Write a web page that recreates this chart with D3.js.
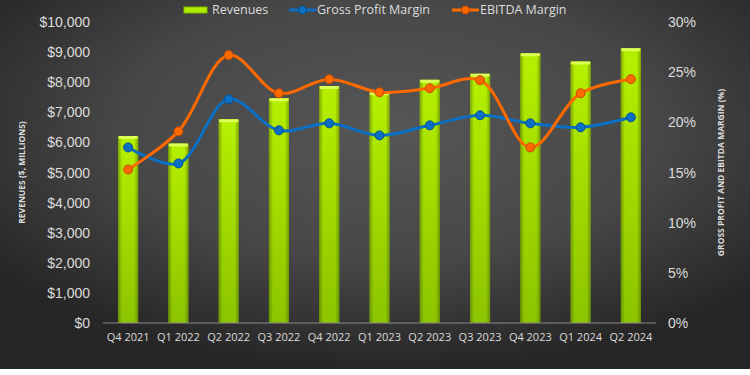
<!DOCTYPE html>
<html lang="en">
<head>
<meta charset="UTF-8">
<title>Revenues vs Gross Profit and EBITDA Margin</title>
<script src="https://d3js.org/d3.v7.min.js"></script>
<style>
  body { margin: 0; background: #fff; }
  svg { display: block; }
  .tick-l, .tick-r { font-family: "Liberation Sans", Arial, sans-serif; font-size: 14px; fill: #dcdcdc; }
  .tick-x { font-family: "Open Sans", sans-serif; font-size: 11px; fill: #dcdcdc; }
  .legend { font-family: "Open Sans", sans-serif; font-size: 12.5px; fill: #dcdcdc; }
  .axis-title { font-family: "Open Sans", sans-serif; font-size: 8.5px; font-weight: bold; fill: #dcdcdc; }
</style>
</head>
<body>
<div id="chart"></div>
<script>
  // data
  const quarters = ["Q4 2021", "Q1 2022", "Q2 2022", "Q3 2022", "Q4 2022", "Q1 2023",
                    "Q2 2023", "Q3 2023", "Q4 2023", "Q1 2024", "Q2 2024"];
  const revenues = [6210, 5960, 6770, 7470, 7870, 7670, 8080, 8280, 8960, 8690, 9130];
  const grossMargin = [17.5, 15.9, 22.3, 19.2, 19.9, 18.7, 19.7, 20.7, 19.9, 19.5, 20.5];
  const ebitdaMargin = [15.3, 19.1, 26.7, 22.9, 24.3, 23.0, 23.4, 24.2, 17.5, 22.9, 24.3];
  const revTicks = [0, 1000, 2000, 3000, 4000, 5000, 6000, 7000, 8000, 9000, 10000];
  const pctTicks = [0, 5, 10, 15, 20, 25, 30];

  const W = 750, H = 375;
  const plot = {left: 103, right: 656, top: 22, bottom: 323};

  const svg = d3.select("#chart").append("svg")
    .attr("width", W).attr("height", H);

  const defs = svg.append("defs");
  const bg = defs.append("radialGradient").attr("id", "bg")
    .attr("cx", "52%").attr("cy", "35%").attr("r", "65%");
  bg.append("stop").attr("offset", "0%").attr("stop-color", "#565656");
  bg.append("stop").attr("offset", "55%").attr("stop-color", "#474747");
  bg.append("stop").attr("offset", "100%").attr("stop-color", "#262626");

  // vertical colour of the bars
  const barGrad = defs.append("linearGradient").attr("id", "bar")
    .attr("x1", 0).attr("x2", 0).attr("y1", 0).attr("y2", 1);
  barGrad.append("stop").attr("offset", "0%").attr("stop-color", "#b6f000");
  barGrad.append("stop").attr("offset", "100%").attr("stop-color", "#8cc400");

  // darker edges, a bit of shine in the middle
  const shade = defs.append("linearGradient").attr("id", "shade")
    .attr("x1", 0).attr("x2", 1).attr("y1", 0).attr("y2", 0);
  shade.append("stop").attr("offset", "0%").attr("stop-color", "#3a5200").attr("stop-opacity", 0.45);
  shade.append("stop").attr("offset", "20%").attr("stop-color", "#3a5200").attr("stop-opacity", 0);
  shade.append("stop").attr("offset", "80%").attr("stop-color", "#3a5200").attr("stop-opacity", 0);
  shade.append("stop").attr("offset", "100%").attr("stop-color", "#3a5200").attr("stop-opacity", 0.45);

  svg.append("rect").attr("width", W).attr("height", 369).attr("fill", "url(#bg)");

  const x = d3.scaleBand().domain(quarters)
    .range([plot.left, plot.right]).paddingInner(0.6).paddingOuter(0.3);
  const yL = d3.scaleLinear().domain([0, 10000]).range([plot.bottom, plot.top]);
  const yR = d3.scaleLinear().domain([0, 30]).range([plot.bottom, plot.top]);
  const cx = d => x(d) + x.bandwidth() / 2;

  // bars
  const bars = svg.append("g");
  ["url(#bar)", "url(#shade)"].forEach((fill, k) => {
    bars.selectAll("rect.b" + k)
      .data(revenues)
      .join("rect")
      .attr("class", "b" + k)
      .attr("x", (d, i) => x(quarters[i]))
      .attr("y", d => yL(d))
      .attr("width", x.bandwidth())
      .attr("height", d => yL(0) - yL(d))
      .attr("fill", fill);
  });
  bars.selectAll("rect.cap")
    .data(revenues)
    .join("rect")
    .attr("class", "cap")
    .attr("x", (d, i) => x(quarters[i]) + 0.5)
    .attr("y", d => yL(d))
    .attr("width", x.bandwidth() - 1)
    .attr("height", 3)
    .attr("rx", 1)
    .attr("fill", "#dcff55");

  // x axis line
  svg.append("line")
    .attr("x1", plot.left).attr("x2", plot.right)
    .attr("y1", plot.bottom).attr("y2", plot.bottom)
    .attr("stroke", "#8a8a8a").attr("stroke-width", 1);

  // x labels
  svg.append("g").selectAll("text")
    .data(quarters)
    .join("text")
    .attr("class", "tick-x")
    .attr("x", d => cx(d))
    .attr("y", plot.bottom + 18)
    .attr("text-anchor", "middle")
    .text(d => d);

  // left ticks
  svg.append("g").selectAll("text")
    .data(revTicks)
    .join("text")
    .attr("class", "tick-l")
    .attr("x", 90)
    .attr("y", d => yL(d) + 5)
    .attr("text-anchor", "end")
    .text(d => "$" + d3.format(",")(d));

  // right ticks
  svg.append("g").selectAll("text")
    .data(pctTicks)
    .join("text")
    .attr("class", "tick-r")
    .attr("x", 668)
    .attr("y", d => yR(d) + 5)
    .text(d => d + "%");

  // axis titles
  svg.append("text")
    .attr("class", "axis-title")
    .attr("transform", `translate(25,${(plot.top + plot.bottom) / 2}) rotate(-90)`)
    .attr("text-anchor", "middle")
    .text("REVENUES ($, MILLIONS)");
  svg.append("text")
    .attr("class", "axis-title")
    .attr("transform", `translate(724,${(plot.top + plot.bottom) / 2}) rotate(-90)`)
    .attr("text-anchor", "middle")
    .text("GROSS PROFIT AND EBITDA MARGIN (%)");

  // lines
  const series = [
    {name: "Gross Profit Margin", values: grossMargin, color: "#0b6fc4", dark: "#064f90"},
    {name: "EBITDA Margin", values: ebitdaMargin, color: "#ff6a00", dark: "#c44a00"}
  ];
  const line = d3.line()
    .x((d, i) => cx(quarters[i]))
    .y(d => yR(d))
    .curve(d3.curveCatmullRom.alpha(0.5));

  series.forEach(s => {
    svg.append("path")
      .datum(s.values)
      .attr("fill", "none")
      .attr("stroke", s.color)
      .attr("stroke-width", 3)
      .attr("d", line);
    svg.append("g").selectAll("circle")
      .data(s.values)
      .join("circle")
      .attr("cx", (d, i) => cx(quarters[i]))
      .attr("cy", d => yR(d))
      .attr("r", 4.5)
      .attr("fill", s.color)
      .attr("stroke", s.dark)
      .attr("stroke-width", 1);
  });

  // legend
  const lg = svg.append("g");
  lg.append("rect").attr("x", 184).attr("y", 7).attr("width", 23).attr("height", 6)
    .attr("fill", "#b0ec00").attr("stroke", "#86b800");
  lg.append("text").attr("class", "legend").attr("x", 212).attr("y", 14).text("Revenues");

  const lineKeys = [{x: 289, s: series[0]}, {x: 452, s: series[1]}];
  lineKeys.forEach(k => {
    lg.append("line").attr("x1", k.x).attr("x2", k.x + 27).attr("y1", 10).attr("y2", 10)
      .attr("stroke", k.s.color).attr("stroke-width", 3);
    lg.append("circle").attr("cx", k.x + 13.5).attr("cy", 10).attr("r", 4)
      .attr("fill", k.s.color).attr("stroke", k.s.dark);
    lg.append("text").attr("class", "legend").attr("x", k.x + 28).attr("y", 14).text(k.s.name);
  });
</script>
</body>
</html>
